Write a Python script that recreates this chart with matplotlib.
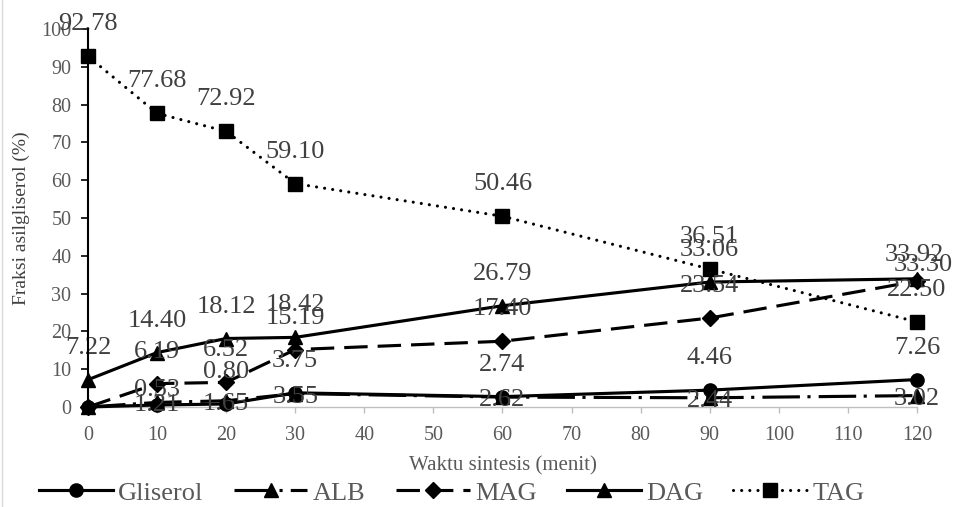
import numpy as np, matplotlib
matplotlib.use("Agg")
import matplotlib.pyplot as plt
from matplotlib.lines import Line2D

plt.rcParams.update({"font.family":["Liberation Serif","DejaVu Serif"]})

# data
waktu=[0,10,20,30,60,90,120]
series_names=["Gliserol","ALB","MAG","DAG","TAG"]
gliserol=[0,0.53,0.80,3.75,2.74,4.46,7.26]
alb=[0,1.21,1.65,3.55,2.62,2.44,3.02]
mag=[0,6.19,6.52,15.19,17.40,23.54,33.30]
dag=[7.22,14.40,18.12,18.42,26.79,33.06,33.92]
tag=[92.78,77.68,72.92,59.10,50.46,36.51,22.50]
yticks=list(range(0,101,10))
xticks=list(range(0,121,10))

# styles
LW=2.25
styles={
    "Gliserol":dict(marker="o",ms=9.5,ls="-"),
    "ALB":dict(marker="^",ms=9.5,ls=(0,(12,2.4,1,2.6))),
    "MAG":dict(marker="D",ms=8,ls=(0,(7.5,3.2))),
    "DAG":dict(marker="^",ms=9.5,ls="-"),
    "TAG":dict(marker="s",ms=9.5,ls=(0,(0.01,2.6))),
}
# label offsets in pixels (dx, dy); default is above the point
ABOVE=(0,32)
offsets={"Gliserol":{1:(0,15)},"ALB":"center","MAG":{6:(6,16)},"DAG":{6:(-3,24)},"TAG":{}}

fig=plt.figure(figsize=(9.54,5.07),dpi=100)
ax=fig.add_axes([88/954,100/507,(917-88)/954,(407-29)/507])

for name,vals in zip(series_names,[gliserol,alb,mag,dag,tag]):
    st=styles[name]
    ln,=ax.plot(waktu,vals,color="black",lw=LW,linestyle=st["ls"],marker=st["marker"],
        ms=st["ms"],mfc="black",mec="black",clip_on=False,label=name,zorder=3)
    if name=="TAG":
        ln.set_dash_capstyle("round")
    for i,(x,v) in enumerate(zip(waktu,vals)):
        if v==0: continue
        off=offsets[name]
        if off=="center": dx,dy=(0,-3)
        else: dx,dy=off.get(i,ABOVE)
        ax.annotate(f"{v:.2f}",(x,v),xytext=(dx*0.72,dy*0.72),textcoords="offset points",
            ha="center",va="center",fontsize=19,color="#404040",zorder=4)

ax.set_xlim(0,120); ax.set_ylim(0,100)
ax.set_xticks(xticks); ax.set_yticks(yticks)
for s in ["top","right"]: ax.spines[s].set_visible(False)
ax.spines["left"].set_color("black"); ax.spines["left"].set_linewidth(1.5)
ax.spines["bottom"].set_color("#bfbfbf"); ax.spines["bottom"].set_linewidth(1)
ax.spines["left"].set_zorder(5)
ax.tick_params(axis="y",direction="out",length=5,width=1.2,color="black",
    labelsize=14.5,labelcolor="#595959",pad=7)
ax.tick_params(axis="x",direction="out",length=4.5,width=1,color="#bfbfbf",
    labelsize=14.5,labelcolor="#595959",pad=9)
ax.set_ylabel("Fraksi asilgliserol (%)",fontsize=14,color="#404040",labelpad=8)
ax.set_xlabel("Waktu sintesis (menit)",fontsize=15,color="#595959",labelpad=8)

ax.legend(loc="center",bbox_to_anchor=(0.4735,0.028),bbox_transform=fig.transFigure,ncol=5,
    frameon=False,fontsize=19,handlelength=2.8,handletextpad=0.2,columnspacing=1.15,
    labelcolor="#595959")

fig.add_artist(Line2D([1.5/954,1.5/954],[0,1],color="#d9d9d9",lw=1))
fig.savefig("out.png",dpi=100,facecolor="white")
